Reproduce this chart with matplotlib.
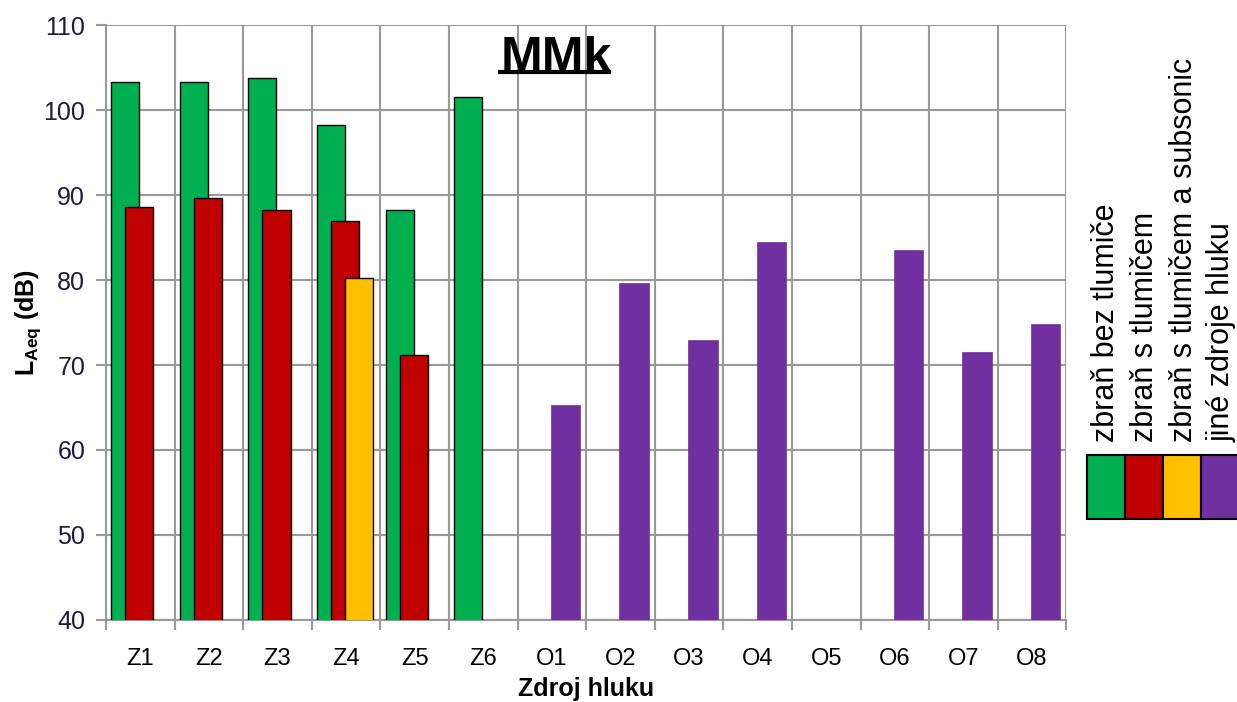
import numpy as np
import matplotlib
matplotlib.use("Agg")
import matplotlib.pyplot as plt
from matplotlib.patches import Rectangle

plt.rcParams['font.family'] = ['Liberation Sans', 'DejaVu Sans']
plt.rcParams['mathtext.fontset'] = 'custom'
plt.rcParams['mathtext.rm'] = 'Liberation Sans'
plt.rcParams['mathtext.bf'] = 'Liberation Sans:bold'

categories = ["Z1", "Z2", "Z3", "Z4", "Z5", "Z6",
              "O1", "O2", "O3", "O4", "O5", "O6", "O7", "O8"]
# nan = no bar
bez_tlumice = [103.3, 103.3, 103.8, 98.3, 88.2, 101.5] + [np.nan] * 8
s_tlumicem = [88.6, 89.7, 88.3, 86.9, 71.2, np.nan] + [np.nan] * 8
s_tlumicem_subsonic = [np.nan, np.nan, np.nan, 80.2, np.nan, np.nan] + [np.nan] * 8
jine_zdroje = [np.nan] * 6 + [65.3, 79.6, 72.9, 84.5, np.nan, 83.6, 71.5, 74.8]

series_names = ["zbraň bez tlumiče", "zbraň s tlumičem",
                "zbraň s tlumičem a subsonic", "jiné zdroje hluku"]
colors = ["#00B050", "#C00000", "#FFC000", "#7030A0"]

fig = plt.figure(figsize=(12.37, 7.02), dpi=100)
ax = fig.add_axes([0.0857, 0.117, 0.7763, 0.847])

x = np.arange(len(categories))
w = 0.41
ax.bar(x - 0.22, bez_tlumice, w, color=colors[0], edgecolor="black", linewidth=1, zorder=3)
ax.bar(x - 0.015, s_tlumicem, w, color=colors[1], edgecolor="black", linewidth=1, zorder=4)
ax.bar(x + 0.19, s_tlumicem_subsonic, w, color=colors[2], edgecolor="black", linewidth=1, zorder=5)
ax.bar(x + 0.2, jine_zdroje, 0.43, color=colors[3], edgecolor=colors[3], linewidth=0.5, zorder=5)

ax.set_xlim(-0.5, len(categories) - 0.5)
ax.set_ylim(40, 110)
ax.set_yticks(np.arange(40, 111, 10))
ax.set_xticks(x)
ax.set_xticklabels(categories, fontsize=17)
ax.set_xticks(np.arange(-0.5, len(categories), 1), minor=True)
ax.tick_params(axis="x", which="major", length=0, pad=20)
ax.tick_params(axis="x", which="minor", length=7, color="#999999", width=1.5)
ax.tick_params(axis="y", length=7, color="#999999", width=1.5, labelsize=18, pad=8,
               labelcolor="#1f1a40")

ax.grid(True, which="minor", axis="x", color="#999999", linewidth=1.5, zorder=0)
ax.grid(True, which="major", axis="y", color="#999999", linewidth=1.5, zorder=0)
ax.set_axisbelow(True)
for s in ["top", "right"]:
    ax.spines[s].set_visible(False)
for s in ["left", "bottom"]:
    ax.spines[s].set_color("#999999")
    ax.spines[s].set_linewidth(1.5)

ax.set_xlabel("Zdroj hluku", fontsize=18, fontweight="bold", labelpad=5)
ax.set_ylabel(r"L$_{\mathbf{Aeq}}$ (dB)", fontsize=18, fontweight="bold", labelpad=0)

ax.text(0.469, 0.944, "MMk", transform=ax.transAxes, fontsize=36, fontweight="bold",
        ha="center", va="center")
ax.plot([0.408, 0.526], [0.922, 0.922], transform=ax.transAxes, color="black",
        linewidth=3, solid_capstyle="butt", clip_on=False, zorder=6)

# legend: rotated labels over a row of colour boxes
W, H = 1237, 702
text_x = [1106, 1145, 1184, 1222]
for tx, name in zip(text_x, series_names):
    fig.text(tx / W, 1 - 442 / H, name, rotation=90, fontsize=22,
             ha="center", va="bottom")
box_x = [1087, 1125, 1163, 1201]
for bx, c in zip(box_x, colors):
    fig.add_artist(Rectangle((bx / W, 1 - 519 / H), 38 / W, 64 / H,
                             transform=fig.transFigure, facecolor=c,
                             edgecolor="black", linewidth=1.5))

fig.savefig("out.png", dpi=100)
